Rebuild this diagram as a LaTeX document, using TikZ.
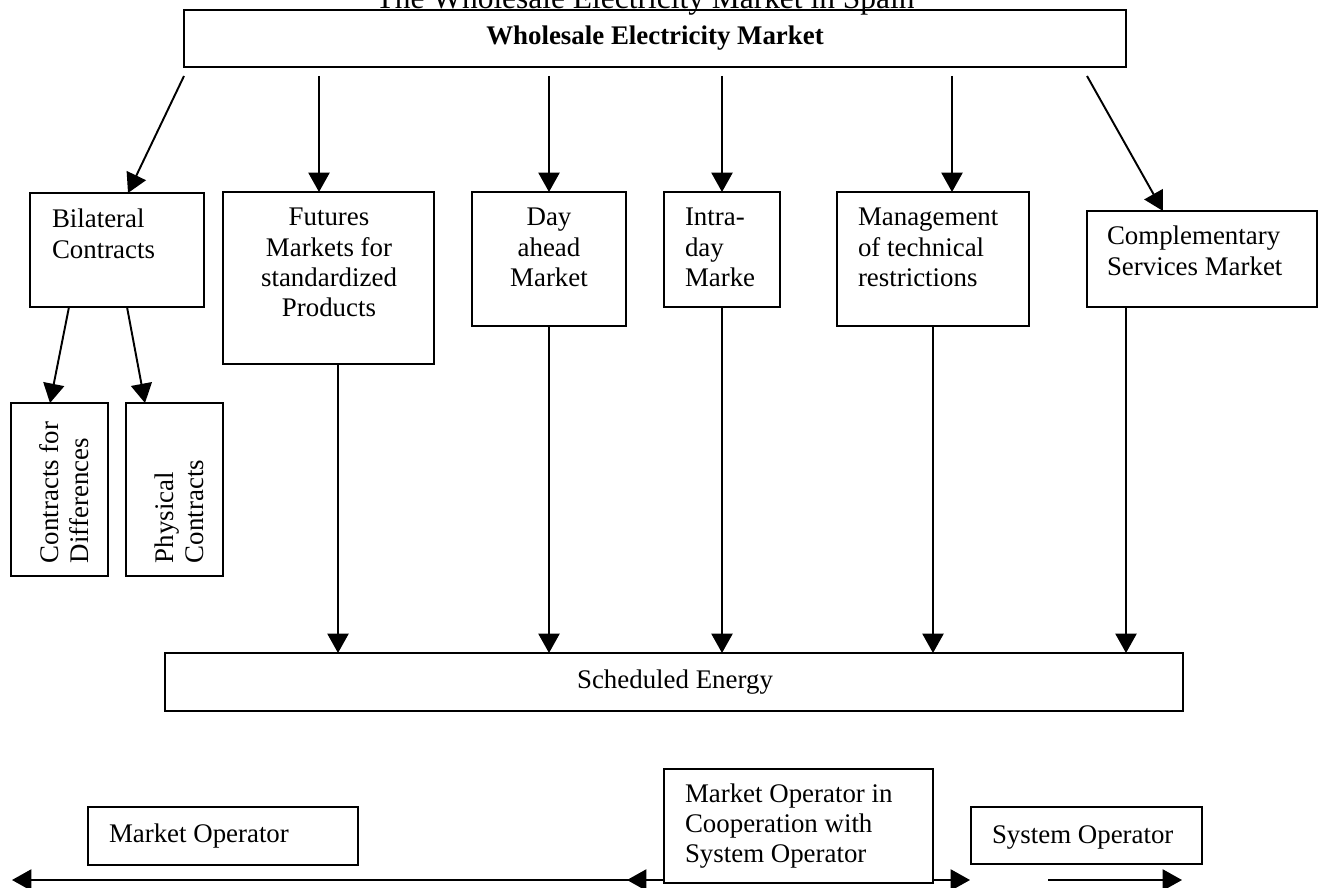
\documentclass[tikz,border=0pt]{standalone}
\usepackage{fontspec}
\setmainfont{Liberation Serif}
\usetikzlibrary{arrows.meta,fit,calc}
\newcommand{\bodyfont}{\fontsize{15.3}{17.1}\selectfont}
\newcommand{\ltxt}[1]{\parbox[t]{6cm}{\raggedright #1}}
\newcommand{\ctxt}[1]{\parbox[t]{6cm}{\centering #1}}
\begin{document}
\begin{tikzpicture}[x=0.02cm,y=-0.02cm,
  box/.style={draw, line width=1.1pt, inner sep=0pt, outer sep=0pt},
  lbl/.style={inner sep=0pt, outer sep=0pt, font=\bodyfont},
  arr/.style={-{Triangle[width=12pt,length=11pt]}, line width=1.1pt}]
\useasboundingbox (0,0) rectangle (1321,888);
\clip (0,0) rectangle (1321,888);

\node[lbl, font=\fontsize{17.9}{20}\selectfont, anchor=base] (title) at (645,9) {The Wholesale Electricity Market in Spain};

\node[box, fit={(184,10) (1126,67)}] (wem) {};
\node[lbl, font=\bodyfont\bfseries, anchor=base] (wemt) at (655,45) {Wholesale Electricity Market};

\node[box, fit={(30,193) (204,307)}] (bil) {};
\node[lbl, anchor=base west] (bilt) at (52,228) {\ltxt{Bilateral\\Contracts}};
\node[box, fit={(223,192) (434,364)}] (fut) {};
\node[lbl, anchor=base] (futt) at (329,226) {\ctxt{Futures\\Markets for\\standardized\\Products}};
\node[box, fit={(472,192) (626,326)}] (day) {};
\node[lbl, anchor=base] (dayt) at (549,226) {\ctxt{Day\\ahead\\Market}};
\node[box, fit={(664,192) (780,307)}] (intra) {};
\node[lbl, anchor=base west] (intrat) at (685,226) {\ltxt{Intra-\\day\\Marke}};
\node[box, fit={(837,192) (1029,326)}] (mgmt) {};
\node[lbl, anchor=base west] (mgmtt) at (858,226) {\ltxt{Management\\of technical\\restrictions}};
\node[box, fit={(1087,211) (1317,307)}] (comp) {};
\node[lbl, anchor=base west] (compt) at (1107,245) {\ltxt{Complementary\\Services Market}};

\node[box, fit={(11,403) (108,576)}] (cfd) {};
\node[lbl, rotate=90, anchor=base west] (cfdt) at (58,563) {\ltxt{Contracts for\\Differences}};
\node[box, fit={(126,403) (223,576)}] (phys) {};
\node[lbl, rotate=90, anchor=base west] (physt) at (173,563) {\ltxt{Physical\\Contracts}};

\node[box, fit={(165,653) (1183,711)}] (sched) {};
\node[lbl, anchor=base] (schedt) at (675,688) {Scheduled Energy};

\node[box, fit={(88,807) (358,865)}] (mo) {};
\node[lbl, anchor=base west] (mot) at (109,842) {Market Operator};
\node[box, fit={(664,769) (933,883)}] (coop) {};
\begin{scope}
\clip (664,760) rectangle (892,890);
\node[lbl, anchor=base west] (coopt) at (685,802) {\ltxt{Market Operator in\\Cooperation with\\System Operator}};
\end{scope}
\node[box, fit={(971,807) (1202,864)}] (so) {};
\node[lbl, anchor=base west] (sot) at (992,843) {System Operator};

% arrows from the wholesale market
\coordinate (a1s) at (184,76); \coordinate (a1e) at (128,193);
\draw[arr] (a1s) -- (a1e);
\coordinate (a2s) at (319,76);
\draw[arr] (a2s) -- (a2s |- fut.north);
\coordinate (a3s) at (549,76);
\draw[arr] (a3s) -- (day.north);
\coordinate (a4s) at (722,76);
\draw[arr] (a4s) -- (intra.north);
\coordinate (a5s) at (952,76);
\draw[arr] (a5s) -- (a5s |- mgmt.north);
\coordinate (a6s) at (1087,76); \coordinate (a6e) at (1163,211);
\draw[arr] (a6s) -- (a6e);

% bilateral split
\coordinate (b1s) at (69,307); \coordinate (b1e) at (50,403);
\draw[arr] (b1s) -- (b1e);
\coordinate (b2s) at (127,307); \coordinate (b2e) at (145,403);
\draw[arr] (b2s) -- (b2e);

% to scheduled energy
\coordinate (c1) at (338,364);
\draw[arr] (c1) -- (c1 |- sched.north);
\draw[arr] (day.south) -- (day.south |- sched.north);
\draw[arr] (intra.south) -- (intra.south |- sched.north);
\draw[arr] (mgmt.south) -- (mgmt.south |- sched.north);
\coordinate (c5) at (1126,307);
\draw[arr] (c5) -- (c5 |- sched.north);

% bottom operator arrows
\coordinate (l0) at (664,880); \coordinate (l1) at (627,880);
\coordinate (l2) at (645,880); \coordinate (l3) at (12,880);
\draw[arr] (l0) -- (l1);
\draw[arr] (l2) -- (l3);
\coordinate (r0) at (933,880); \coordinate (r1) at (970,880);
\draw[arr] (r0) -- (r1);
\coordinate (s0) at (1048,880); \coordinate (s1) at (1182,880);
\draw[arr] (s0) -- (s1);
\end{tikzpicture}
\end{document}
